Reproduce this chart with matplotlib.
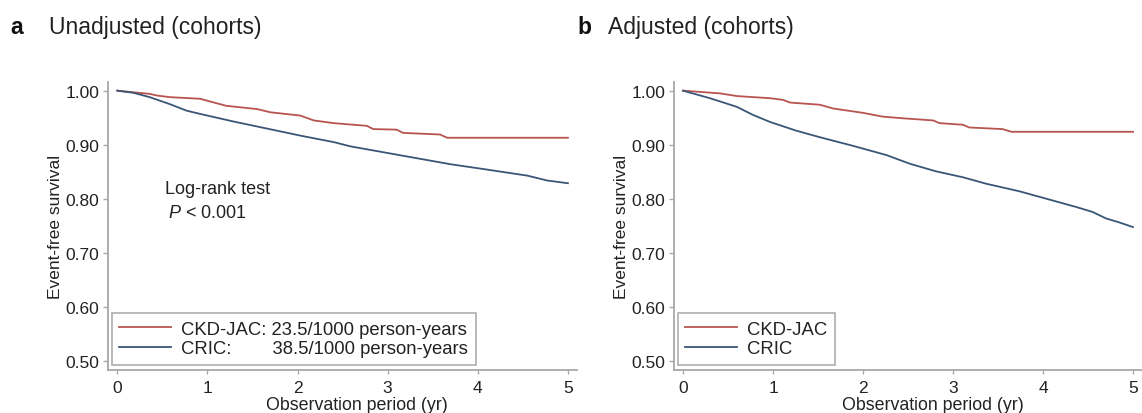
import matplotlib
matplotlib.use("Agg")
import matplotlib.pyplot as plt

plt.rcParams['font.family'] = ['Liberation Sans', 'DejaVu Sans']
plt.rcParams['mathtext.fontset'] = 'custom'
plt.rcParams['mathtext.rm'] = 'Liberation Sans'
plt.rcParams['mathtext.it'] = 'Liberation Sans:italic'

# ---- data ----
# Panel a: unadjusted
a_jac_t = [0, 0.18, 0.36, 0.44, 0.585, 0.92, 1.03, 1.21, 1.55, 1.70, 2.03, 2.18, 2.40,
           2.77, 2.84, 3.10, 3.17, 3.58, 3.66, 5.0]
a_jac_s = [1.0, 0.997, 0.994, 0.991, 0.988, 0.985, 0.980, 0.972, 0.966, 0.960, 0.954,
           0.945, 0.940, 0.935, 0.929, 0.928, 0.922, 0.919, 0.913, 0.913]
a_cric_t = [0, 0.18, 0.36, 0.585, 0.77, 0.92, 1.29, 1.66, 2.03, 2.40, 2.59, 2.96, 3.33,
            3.70, 4.07, 4.55, 4.77, 5.0]
a_cric_s = [1.0, 0.996, 0.988, 0.975, 0.963, 0.957, 0.943, 0.930, 0.917, 0.905, 0.897,
            0.886, 0.875, 0.864, 0.855, 0.843, 0.834, 0.829]

# Panel b: adjusted
b_jac_t = [0, 0.41, 0.60, 0.97, 1.11, 1.19, 1.52, 1.67, 2.0, 2.22, 2.44, 2.78, 2.85,
           3.11, 3.18, 3.55, 3.65, 5.0]
b_jac_s = [1.0, 0.995, 0.990, 0.986, 0.983, 0.978, 0.974, 0.967, 0.959, 0.952, 0.949,
           0.945, 0.940, 0.937, 0.932, 0.929, 0.924, 0.924]
b_cric_t = [0, 0.30, 0.60, 0.78, 0.97, 1.26, 1.52, 1.89, 2.26, 2.52, 2.81, 3.11, 3.37,
            3.74, 4.11, 4.37, 4.55, 4.70, 4.84, 5.0]
b_cric_s = [1.0, 0.986, 0.970, 0.955, 0.942, 0.926, 0.914, 0.898, 0.881, 0.865, 0.851,
            0.840, 0.828, 0.814, 0.797, 0.785, 0.776, 0.764, 0.757, 0.748]

x_ticks = [0, 1, 2, 3, 4, 5]
y_ticks = [0.50, 0.60, 0.70, 0.80, 0.90, 1.00]

a_labels = ['CKD-JAC: 23.5/1000 person-years', 'CRIC:        38.5/1000 person-years']
b_labels = ['CKD-JAC', 'CRIC']

COL_JAC = '#b85450'
COL_CRIC = '#3a5677'
SPINE = '#a8a8a8'
TXT = '#222222'

fig = plt.figure(figsize=(11.42, 4.14), dpi=100)
ax1 = fig.add_axes([0.0948, 0.1046, 0.4104, 0.6957])
ax2 = fig.add_axes([0.5902, 0.1046, 0.4098, 0.6957])


def style(ax, xlab_x):
    ax.set_xlim(-0.1, 5.1)
    ax.set_ylim(0.4845, 1.0166)
    ax.set_xticks(x_ticks)
    ax.set_yticks(y_ticks)
    ax.set_yticklabels([f'{v:.2f}' for v in y_ticks])
    for s in ['top', 'right']:
        ax.spines[s].set_visible(False)
    for s in ['left', 'bottom']:
        ax.spines[s].set_color(SPINE)
        ax.spines[s].set_linewidth(1.3)
    ax.tick_params(axis='x', length=3, width=1, color=SPINE, pad=4.5,
                   labelsize=12.5, labelcolor=TXT)
    ax.tick_params(axis='y', length=3.6, width=1, color=SPINE, pad=2.8,
                   labelsize=12.5, labelcolor=TXT)
    ax.set_ylabel('Event-free survival', fontsize=12.5, color=TXT)
    ax.yaxis.set_label_coords(-0.097, 0.5)
    ax.set_xlabel('Observation period (yr)', fontsize=12.8, color=TXT)
    ax.xaxis.set_label_coords(xlab_x, -0.09)


for ax, jt, js, ct, cs, labels, xl in [
    (ax1, a_jac_t, a_jac_s, a_cric_t, a_cric_s, a_labels, 0.53),
    (ax2, b_jac_t, b_jac_s, b_cric_t, b_cric_s, b_labels, 0.553),
]:
    ax.plot(jt, js, color=COL_JAC, lw=1.3, label=labels[0])
    ax.plot(ct, cs, color=COL_CRIC, lw=1.3, label=labels[1])
    style(ax, xl)
    leg = ax.legend(loc='lower left', bbox_to_anchor=(0.008, 0.017), borderaxespad=0,
                    fontsize=13.3, frameon=True, fancybox=False, handlelength=2.8,
                    handletextpad=0.55, labelspacing=0.15, borderpad=0.4)
    leg.get_frame().set_edgecolor('#999999')
    leg.get_frame().set_linewidth(1.2)
    for t in leg.get_texts():
        t.set_color(TXT)

ax1.text(0.53, 0.811, 'Log-rank test', fontsize=13, color=TXT, va='baseline')
ax1.text(0.565, 0.767, r'$\mathit{P}$ < 0.001', fontsize=13, color=TXT, va='baseline')

fig.text(10 / 1142, 1 - 34 / 414, 'a', fontsize=16.5, fontweight='bold', color='#111111',
         va='baseline')
fig.text(49 / 1142, 1 - 34 / 414, 'Unadjusted (cohorts)', fontsize=16.5, color=TXT,
         va='baseline')
fig.text(577 / 1142, 1 - 34 / 414, 'b', fontsize=16.5, fontweight='bold', color='#111111',
         va='baseline')
fig.text(608 / 1142, 1 - 34 / 414, 'Adjusted (cohorts)', fontsize=16.5, color=TXT,
         va='baseline')

fig.savefig('out.png', dpi=100)
